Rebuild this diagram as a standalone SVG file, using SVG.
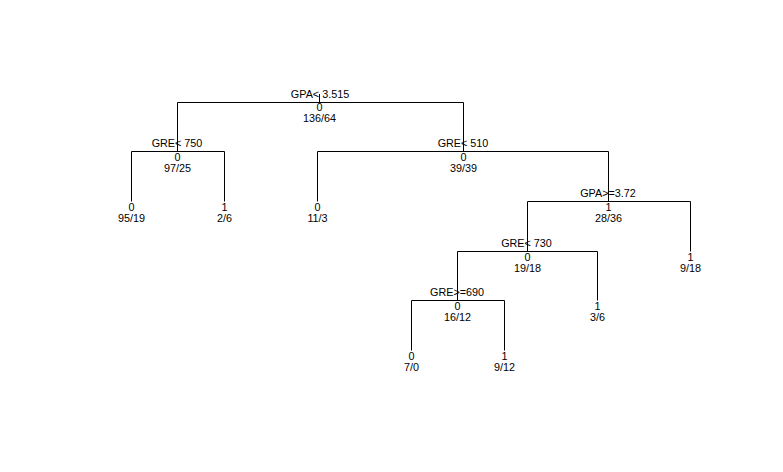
<svg xmlns="http://www.w3.org/2000/svg" width="783" height="472" viewBox="0 0 783 472">
<style>
text{font-family:"Liberation Sans",Arial,sans-serif;font-size:10.8px;fill:#000;text-anchor:middle}
.edge{fill:none;stroke:#000;stroke-width:1}
</style>
<rect width="783" height="472" fill="#fff"/>
<g id="connectors">
<path class="edge" d="M319.5,94 V102.5"/>
<path class="edge" d="M177.5,151.5 V102.5 H463.5 V151.5"/>
<path class="edge" d="M131.5,201.5 V151.5 H224.5 V201.5"/>
<path class="edge" d="M317.5,201.5 V151.5 H608.5 V201.5"/>
<path class="edge" d="M527.5,251.5 V201.5 H690.5 V251.5"/>
<path class="edge" d="M457.5,300.5 V251.5 H597.5 V300.5"/>
<path class="edge" d="M411.5,350.5 V300.5 H504.5 V350.5"/>
</g>
<g id="n1"><text x="320" y="97.5">GPA&lt; 3.515</text><text x="319.5" y="110.5">0</text><text x="319.5" y="121.5">136/64</text></g>
<g id="n2"><text x="177" y="146.5">GRE&lt; 750</text><text x="177.5" y="160.5">0</text><text x="177.5" y="171.5">97/25</text></g>
<g id="n3"><text x="463" y="146.5">GRE&lt; 510</text><text x="463.5" y="160.5">0</text><text x="463.5" y="171.5">39/39</text></g>
<g id="n4"><text x="131.5" y="210.5">0</text><text x="131.5" y="221.5">95/19</text></g>
<g id="n5"><text x="224.5" y="210.5">1</text><text x="224.5" y="221.5">2/6</text></g>
<g id="n6"><text x="317.5" y="210.5">0</text><text x="317.5" y="221.5">11/3</text></g>
<g id="n7"><text x="608" y="196.5">GPA&gt;=3.72</text><text x="608.5" y="210.5">1</text><text x="608.5" y="221.5">28/36</text></g>
<g id="n8"><text x="526.5" y="246.5">GRE&lt; 730</text><text x="527.5" y="260.5">0</text><text x="527.5" y="271.5">19/18</text></g>
<g id="n9"><text x="690.5" y="260.5">1</text><text x="690.5" y="271.5">9/18</text></g>
<g id="n10"><text x="457" y="295.5">GRE&gt;=690</text><text x="457.5" y="309.5">0</text><text x="457.5" y="320.5">16/12</text></g>
<g id="n11"><text x="597.5" y="309.5">1</text><text x="597.5" y="320.5">3/6</text></g>
<g id="n12"><text x="411.5" y="359.5">0</text><text x="411.5" y="370.5">7/0</text></g>
<g id="n13"><text x="504.5" y="359.5">1</text><text x="504.5" y="370.5">9/12</text></g>
</svg>
